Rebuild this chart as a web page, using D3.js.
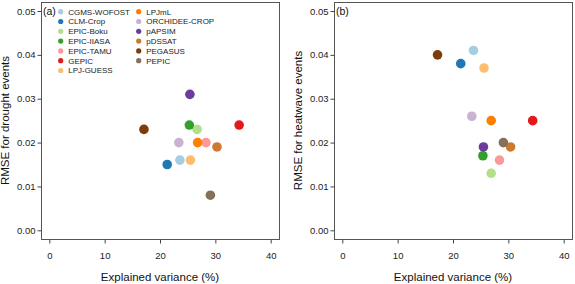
<!DOCTYPE html>
<html>
<head>
<meta charset="utf-8">
<style>
body { margin: 0; background: #fff; }
svg { font-family: 'Liberation Sans', Arial, sans-serif; }
</style>
</head>
<body>
<svg width="575" height="284"></svg>
<script src="https://d3js.org/d3.v7.min.js"></script>
<script>
// models, colours and the two sets of (explained variance, RMSE) values
var models = ["CGMS-WOFOST", "CLM-Crop", "EPIC-Boku", "EPIC-IIASA", "EPIC-TAMU", "GEPIC",
              "LPJ-GUESS", "LPJmL", "ORCHIDEE-CROP", "pAPSIM", "pDSSAT", "PEGASUS", "PEPIC"];
var colors = ["#a6cee3", "#1f78b4", "#b2df8a", "#33a02c", "#fb9a99", "#e31a1c",
              "#fdbf6f", "#ff7f00", "#cab2d6", "#6a3d9a", "#cc7a30", "#7f3b08", "#85705a"];

var droughtVar  = [23.6, 21.3, 26.7, 25.3, 28.3, 34.3, 25.5, 26.8, 23.4, 25.4, 30.3, 17.1, 29.1];
var droughtRmse = [0.016, 0.015, 0.023, 0.024, 0.020, 0.024, 0.016, 0.020, 0.020, 0.031, 0.019, 0.023, 0.008];

var heatVar  = [23.7, 21.4, 26.9, 25.4, 28.4, 34.4, 25.6, 26.9, 23.4, 25.5, 30.4, 17.2, 29.1];
var heatRmse = [0.041, 0.038, 0.013, 0.017, 0.016, 0.025, 0.037, 0.025, 0.026, 0.019, 0.019, 0.040, 0.020];

var xTicks = [0, 10, 20, 30, 40];
var yTicks = [0, 0.01, 0.02, 0.03, 0.04, 0.05];

var svg = d3.select("svg");

var panels = [
  {left: 41, right: 279, label: "(a)", ytitle: "RMSE for drought events", xs: droughtVar, ys: droughtRmse, legend: true},
  {left: 334, right: 572, label: "(b)", ytitle: "RMSE for heatwave events", xs: heatVar, ys: heatRmse, legend: false}
];

var boxTop = 2, boxBottom = 239;

panels.forEach(function(p) {
  var x = d3.scaleLinear().domain([-1.5, 41.5]).range([p.left, p.right]);
  var y = d3.scaleLinear().domain([0, 0.05]).range([230.3, 11]);

  var g = svg.append("g");

  // frame
  g.append("rect")
      .attr("x", p.left + 0.5)
      .attr("y", boxTop + 0.5)
      .attr("width", p.right - p.left)
      .attr("height", boxBottom - boxTop)
      .attr("fill", "none")
      .attr("stroke", "#555")
      .attr("stroke-width", 1);

  var xa = g.append("g")
      .attr("transform", "translate(0," + (boxBottom + 0.5) + ")")
      .call(d3.axisBottom(x).tickValues(xTicks).tickSize(4).tickPadding(9).tickFormat(d3.format("d")));
  var ya = g.append("g")
      .attr("transform", "translate(" + (p.left + 0.5) + ",0)")
      .call(d3.axisLeft(y).tickValues(yTicks).tickSize(4).tickPadding(2).tickFormat(d3.format(".2f")));

  [xa, ya].forEach(function(a) {
    a.select(".domain").remove();
    a.selectAll("line").attr("stroke", "#444");
    a.selectAll("text").attr("fill", "#222").attr("font-size", "9.5px").attr("font-family", "'Liberation Sans', Arial, sans-serif");
  });

  // titles
  g.append("text")
      .attr("x", (x(0) + x(40)) / 2)
      .attr("y", 281)
      .attr("text-anchor", "middle")
      .attr("font-size", "11.5px")
      .attr("fill", "#111")
      .text("Explained variance (%)");

  g.append("text")
      .attr("transform", "translate(" + (p.left - 32) + "," + ((boxTop + boxBottom) / 2) + ") rotate(-90)")
      .attr("text-anchor", "middle")
      .attr("font-size", "11.5px")
      .attr("fill", "#111")
      .text(p.ytitle);

  g.append("text")
      .attr("x", p.left + 2)
      .attr("y", 15)
      .attr("font-size", "10.5px")
      .attr("fill", "#111")
      .text(p.label);

  // points
  g.append("g")
    .selectAll("circle")
    .data(models)
    .enter().append("circle")
      .attr("cx", function(d, i) { return x(p.xs[i]); })
      .attr("cy", function(d, i) { return y(p.ys[i]); })
      .attr("r", 4.8)
      .attr("fill", function(d, i) { return colors[i]; });

  if (p.legend) {
    var leg = g.append("g")
      .selectAll("g")
      .data(models)
      .enter().append("g")
        .attr("transform", function(d, i) {
          var col = i < 7 ? 0 : 1, row = i < 7 ? i : i - 7;
          return "translate(" + (col ? 138.7 : 60.7) + "," + (11.7 + row * 9.8) + ")";
        });
    leg.append("circle")
        .attr("r", 2.6)
        .attr("fill", function(d, i) { return colors[i]; });
    leg.append("text")
        .attr("x", 7.5)
        .attr("dy", "0.35em")
        .attr("font-size", "8px")
        .attr("fill", "#222")
        .text(function(d) { return d; });
  }
});
</script>
</body>
</html>
